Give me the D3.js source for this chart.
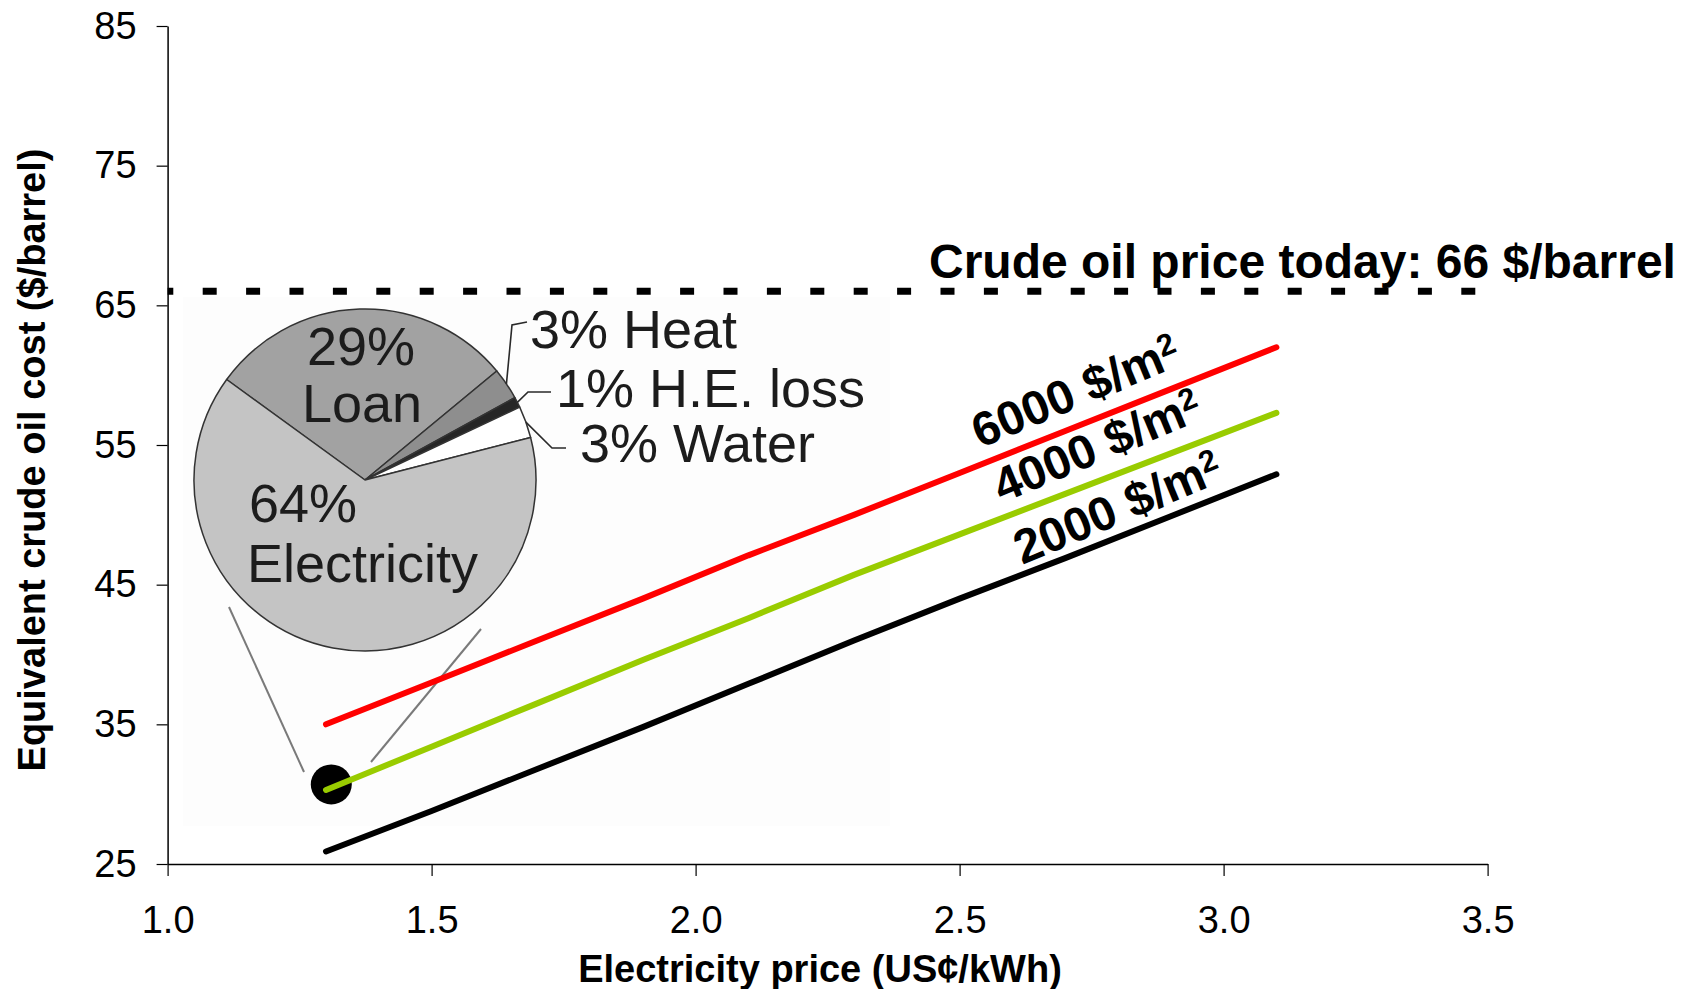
<!DOCTYPE html>
<html><head><meta charset="utf-8">
<script src="https://cdn.jsdelivr.net/npm/d3@7"></script>
<style>
body{margin:0;background:#fff}
svg{display:block}
text{font-family:"Liberation Sans",Arial,Helvetica,sans-serif}
</style>
</head><body>
<svg id="c" width="1693" height="989"></svg>
<script>
// ---------- data ----------
const xTicks = [1.0, 1.5, 2.0, 2.5, 3.0, 3.5];
const yTicks = [25, 35, 45, 55, 65, 75, 85];
const priceX = [1.3, 1.5, 1.7, 1.9, 2.1, 2.3, 2.5, 2.7, 2.9, 3.1];
const cost6000 = [35.0, 38.0, 41.0, 44.0, 47.1, 50.0, 53.0, 56.0, 59.0, 62.0];
const cost4000 = [30.3, 33.4, 36.5, 39.6, 42.6, 45.7, 48.6, 51.5, 54.4, 57.3];
const cost2000 = [25.9, 28.8, 31.8, 34.8, 37.9, 41.0, 44.0, 46.9, 49.9, 52.9];
const seriesNames = ["6000 $/m", "4000 $/m", "2000 $/m"];
const seriesLabelX = [2.55, 2.59, 2.625];
const crudeOilPrice = 66;
const crudeLabel = "Crude oil price today: 66 $/barrel";
const xTitle = "Electricity price (US¢/kWh)";
const yTitle = "Equivalent crude oil cost ($/barrel)";
const pieLabels = ["Loan", "Heat", "H.E. loss", "Water", "Electricity"];
const pieValues = [29, 3, 1, 3, 64];
const markerPoint = [1.31, 30.7];

// ---------- setup ----------
const svg = d3.select("#c");
const x = d3.scaleLinear().domain([1.0, 3.5]).range([167.6, 1487.6]);
const y = d3.scaleLinear().domain([25, 85]).range([864, 26]);

// very faint inset background (the pasted pie image)
svg.append("rect").attr("x", 183).attr("y", 297).attr("width", 707).attr("height", 529)
  .attr("fill", "#fdfdfd");

// ---------- axes ----------
const yAxis = d3.axisLeft(y).tickValues(yTicks).tickFormat(d3.format("d"))
  .tickSize(11).tickSizeOuter(0).tickPadding(20);
const gy = svg.append("g").attr("transform", `translate(${x(1.0)},0)`).call(yAxis);
const xAxis = d3.axisBottom(x).tickValues(xTicks).tickFormat(d3.format(".1f"))
  .tickSize(12).tickSizeOuter(0).tickPadding(30);
const gx = svg.append("g").attr("transform", `translate(0,${y(25)})`).call(xAxis);
[gx, gy].forEach(g => {
  g.select(".domain").attr("stroke", "#000").attr("stroke-width", 1.5);
  g.selectAll(".tick line").attr("stroke", "#000").attr("stroke-width", 1.2);
  g.selectAll(".tick text").attr("fill", "#000").style("font-size", "38px")
    .style("font-family", '"Liberation Sans",Arial,sans-serif');
});

svg.append("text").attr("x", 820).attr("y", 982).attr("text-anchor", "middle")
  .style("font-size", "38px").style("font-weight", "bold").text(xTitle);
svg.append("text").attr("transform", "translate(45,460) rotate(-90)").attr("text-anchor", "middle")
  .style("font-size", "38px").style("font-weight", "bold").text(yTitle);

// ---------- crude oil reference line ----------
svg.append("line").attr("x1", x(1.0)).attr("x2", 1476)
  .attr("y1", y(crudeOilPrice)).attr("y2", y(crudeOilPrice))
  .attr("stroke", "#000").attr("stroke-width", 7)
  .attr("stroke-dasharray", "14,29.4").attr("stroke-dashoffset", 8.3);
svg.append("text").attr("x", 929).attr("y", 278)
  .style("font-size", "48px").style("font-weight", "bold").text(crudeLabel);

// ---------- pie inset ----------
const cx = 365, cy = 480, R = 171;
const pieColors = ["#a2a2a2", "#8e8e8e", "#262626", "#ffffff", "#c4c4c4"];
const pie = d3.pie().sort(null).value(d => d)
  .startAngle(-54 * Math.PI / 180).endAngle(306 * Math.PI / 180);
const arcs = pie(pieValues);
const arc = d3.arc().innerRadius(0).outerRadius(R);
const gp = svg.append("g").attr("transform", `translate(${cx},${cy})`);
gp.selectAll("path").data(arcs).join("path").attr("d", arc)
  .attr("fill", (d, i) => pieColors[i]).attr("stroke", "#333").attr("stroke-width", 1.5)
  .attr("stroke-linejoin", "round");

const pieTxt = (t, px, py, anchor) => svg.append("text").attr("x", px).attr("y", py)
  .attr("text-anchor", anchor).attr("fill", "#1c1c1c").style("font-size", "54px").text(t);
pieTxt(pieValues[0] + "%", 361, 365, "middle");
pieTxt(pieLabels[0], 362, 422, "middle");
pieTxt(pieValues[4] + "%", 249, 522, "start");
pieTxt(pieLabels[4], 247, 582, "start");
pieTxt(pieValues[1] + "% " + pieLabels[1], 530, 348, "start");
pieTxt(pieValues[2] + "% " + pieLabels[2], 556, 407, "start");
pieTxt(pieValues[3] + "% " + pieLabels[3], 580, 462, "start");

// leader lines from the small slices
const edge = d => { const a = (d.startAngle + d.endAngle) / 2; return [cx + R * Math.sin(a), cy - R * Math.cos(a)]; };
const elbows = [[[512, 325], [527, 322]], [[528, 392], [551, 392]], [[552, 448], [566, 448]]];
[1, 2, 3].forEach((k, j) => {
  const pts = [edge(arcs[k]), ...elbows[j]];
  svg.append("path").attr("d", d3.line()(pts)).attr("fill", "none")
    .attr("stroke", "#2a2a2a").attr("stroke-width", 1.6);
});

// zoom connector lines and marker
svg.append("line").attr("x1", 229).attr("y1", 607).attr("x2", 304).attr("y2", 772)
  .attr("stroke", "#7a7a7a").attr("stroke-width", 2);
svg.append("line").attr("x1", 481).attr("y1", 629).attr("x2", 371).attr("y2", 762)
  .attr("stroke", "#7a7a7a").attr("stroke-width", 2);
svg.append("ellipse").attr("cx", x(markerPoint[0])).attr("cy", y(markerPoint[1]))
  .attr("rx", 20.5).attr("ry", 20).attr("fill", "#000");

// ---------- series lines ----------
const series = [
  {name: seriesNames[0], vals: cost6000, color: "#ff0000", lx: seriesLabelX[0], off: 15},
  {name: seriesNames[1], vals: cost4000, color: "#99cc00", lx: seriesLabelX[1], off: 14},
  {name: seriesNames[2], vals: cost2000, color: "#000000", lx: seriesLabelX[2], off: 9}
];
const line = d3.line().x(d => x(d[0])).y(d => y(d[1]));
series.forEach(s => {
  const pts = priceX.map((p, i) => [p, s.vals[i]]);
  svg.append("path").attr("d", line(pts)).attr("fill", "none")
    .attr("stroke", s.color).attr("stroke-width", 6)
    .attr("stroke-linecap", "round").attr("stroke-linejoin", "round");
});
series.forEach(s => {
  const pts = priceX.map((p, i) => [p, s.vals[i]]);
  const n = pts.length - 1;
  const ang = Math.atan2(y(pts[0][1]) - y(pts[n][1]), x(pts[n][0]) - x(pts[0][0])) * 180 / Math.PI + 1;
  const ly = d3.scaleLinear().domain(priceX).range(s.vals)(s.lx);
  const t = svg.append("text")
    .attr("transform", `translate(${x(s.lx)},${y(ly)}) rotate(${-ang})`)
    .attr("y", -s.off).style("font-size", "48px").style("font-weight", "bold");
  t.append("tspan").text(s.name);
  t.append("tspan").attr("dy", "-0.45em").style("font-size", "31px").text("2");
});
</script>
</body></html>
